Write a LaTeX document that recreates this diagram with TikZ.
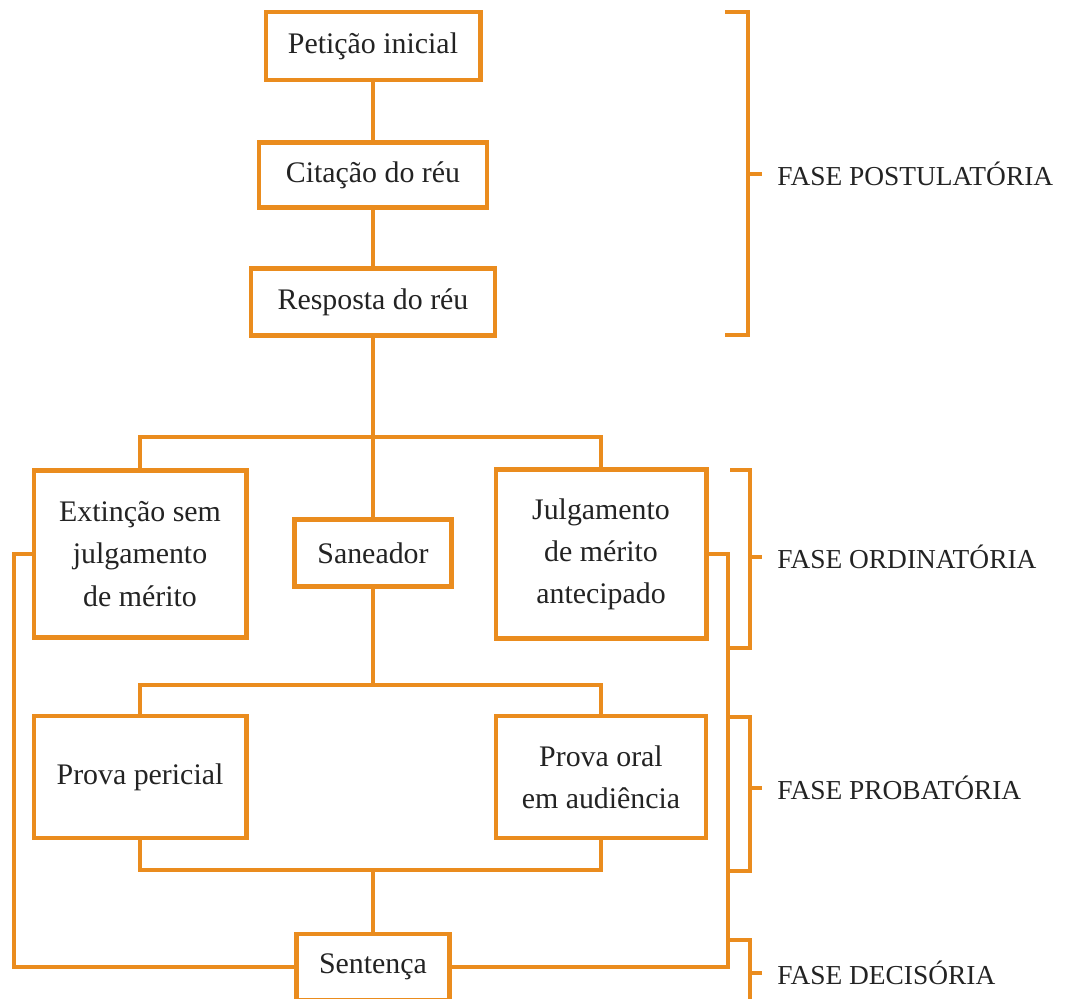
\documentclass[tikz,border=0pt]{standalone}
\usepackage{fontspec}
\setmainfont{Liberation Serif}
\definecolor{laranja}{RGB}{234,140,30}
\definecolor{texto}{RGB}{35,35,35}

\begin{document}
\begin{tikzpicture}[
  x=0.02cm, y=-0.02cm,
  linha/.style={draw=laranja, line width=2.3pt},
  etapa/.style={linha, rectangle, fill=white, text=texto, align=center, inner sep=0pt,
    font=\fontsize{17}{24}\selectfont},
  fase/.style={anchor=west, text=texto, inner sep=0pt, font=\fontsize{15.6}{18}\selectfont}
]
\useasboundingbox (0,0) rectangle (1065,999);

% etapas
\node[etapa, minimum width=4.30cm, minimum height=1.36cm] (peticao) at (373,46) {Petição inicial};
\node[etapa, minimum width=4.56cm, minimum height=1.30cm] (citacao) at (373,175) {Citação do réu};
\node[etapa, minimum width=4.88cm, minimum height=1.34cm] (resposta) at (373,302) {Resposta do réu};
\node[etapa, minimum width=4.26cm, minimum height=3.34cm] (extincao) at (140,554) {Extinção sem\\julgamento\\de mérito};
\node[etapa, minimum width=3.14cm, minimum height=1.34cm] (saneador) at (373,553) {Saneador};
\node[etapa, minimum width=4.22cm, minimum height=3.38cm] (julgamento) at (601,554) {Julgamento\\de mérito\\antecipado};
\node[etapa, minimum width=4.26cm, minimum height=2.44cm] (pericial) at (140,777) {Prova pericial};
\node[etapa, minimum width=4.20cm, minimum height=2.44cm] (oral) at (601,777) {Prova oral\\em audiência};
\node[etapa, minimum width=3.06cm, minimum height=1.32cm] (sentenca) at (373,967) {Sentença};

% pontos de ligacao
\coordinate (bus1) at (373,437);
\coordinate (bus2) at (373,685);
\coordinate (bus3) at (373,870);
\coordinate (esq) at (14,0);
\coordinate (dir) at (728,0);

% ligacoes
\draw[linha] (peticao) -- (citacao);
\draw[linha] (citacao) -- (resposta);
\draw[linha] (resposta) -- (saneador);
\draw[linha] (extincao.north) |- (bus1) -| (julgamento.north);
\draw[linha] (saneador) -- (bus2);
\draw[linha] (pericial.north) |- (bus2) -| (oral.north);
\draw[linha] (pericial.south) |- (bus3) -| (oral.south);
\draw[linha] (bus3) -- (sentenca);
\draw[linha] (extincao.west) -- (extincao.west -| esq) |- (sentenca.west);
\draw[linha] (julgamento.east) -- (julgamento.east -| dir) |- (sentenca.east);

% fases
\draw[linha] (725,12) -- (748,12) -- (748,335) -- (725,335);
\draw[linha] (748,174) -- (762,174);
\node[fase] (postulatoria) at (777,174) {FASE POSTULATÓRIA};

\draw[linha] (730,470) -- (750,470) -- (750,648) -- (730,648);
\draw[linha] (750,557) -- (762,557);
\node[fase] (ordinatoria) at (777,557) {FASE ORDINATÓRIA};

\draw[linha] (728,717) -- (750,717) -- (750,871) -- (728,871);
\draw[linha] (750,788) -- (762,788);
\node[fase] (probatoria) at (777,788) {FASE PROBATÓRIA};

\draw[linha] (728,940) -- (750,940) -- (750,1010);
\draw[linha] (750,973) -- (762,973);
\node[fase] (decisoria) at (777,973) {FASE DECISÓRIA};
\end{tikzpicture}
\end{document}
